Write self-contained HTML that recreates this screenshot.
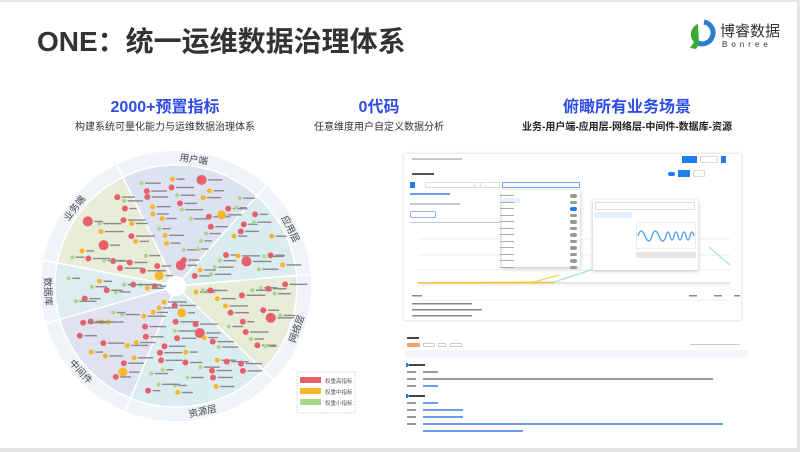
<!DOCTYPE html>
<html><head><meta charset="utf-8">
<style>
*{margin:0;padding:0;box-sizing:border-box}
body{width:800px;height:452px;background:#fff;position:relative;overflow:hidden;font-family:"Liberation Sans","Noto Sans CJK SC",sans-serif}
.frame{position:absolute;left:0;top:0;width:800px;height:452px;border-top:2px solid #e4e4e4;border-right:3px solid #e4e4e4;border-bottom:4px solid #e4e4e4}
.a{position:absolute}
.h{color:#2e4de6;font-weight:bold;font-size:16px;text-align:center;width:260px}
.s{color:#333;font-size:10px;text-align:center;width:260px}
.bar{position:absolute;height:2px;background:#c8c8c8}
.bl{position:absolute;height:2px;background:#6f9cf0}
</style></head><body>
<div class="frame"></div>
<div class="a" style="left:37px;top:20px;font-size:28px;font-weight:bold;color:#333">ONE：统一运维数据治理体系</div>
<svg class="a" style="left:684px;top:18px" width="34" height="34" viewBox="0 0 34 34">
<path d="M20 4 A11 11 0 1 1 12 24" fill="none" stroke="#2a7fd0" stroke-width="5"/>
<path d="M14 6 A11 11 0 0 0 10 24 L6 30 L12 31 L15 26" fill="#3aa73a"/>
</svg>
<div class="a" style="left:720px;top:20px;font-size:15px;color:#333">博睿数据</div>
<div class="a" style="left:722px;top:40px;font-size:8px;color:#333;letter-spacing:4px">Bonree</div>

<div class="a h" style="left:35px;top:93px">2000+预置指标</div>
<div class="a s" style="left:35px;top:118px">构建系统可量化能力与运维数据治理体系</div>
<div class="a h" style="left:249px;top:93px">0代码</div>
<div class="a s" style="left:249px;top:118px">任意维度用户自定义数据分析</div>
<div class="a h" style="left:497px;top:93px">俯瞰所有业务场景</div>
<div class="a s" style="left:497px;top:118px;font-weight:bold;color:#222">业务-用户端-应用层-网络层-中间件-数据库-资源</div>

<svg class="a" style="left:0;top:0" width="800" height="452" id="wheel">
<circle cx="176" cy="286" r="135" fill="#eef4f7"/>
<g id="sec"></g>
<g id="dots"></g>
<circle cx="176" cy="286" r="10" fill="#fff"/>
<g font-size="9.5" fill="#444" text-anchor="middle" id="lbl"></g>
<rect x="297" y="372" width="58" height="41" fill="#fff" stroke="#ddd" stroke-dasharray="2,1"/>
<rect x="300" y="377" width="21" height="6" fill="#e8606a"/>
<rect x="300" y="388" width="21" height="6" fill="#f8b62d"/>
<rect x="300" y="399" width="21" height="6" fill="#a8d88a"/>
<g font-size="5.5" fill="#555"><text x="325" y="383">权重高指标</text><text x="325" y="394">权重中指标</text><text x="325" y="405">权重小指标</text></g>
</svg>

<div class="a" style="left:404px;top:154px;width:337px;height:166px;background:#fff;box-shadow:0 0 3px #ccc"></div>
<div class="bar" style="left:412px;top:158px;width:50px"></div>
<div class="a" style="left:682px;top:156px;width:15px;height:7px;background:#1e7ef0"></div>
<div class="a" style="left:700px;top:156px;width:18px;height:7px;border:1px solid #ddd"></div>
<div class="a" style="left:721px;top:156px;width:5px;height:7px;background:#1e7ef0"></div>
<div class="bar" style="left:412px;top:173px;width:22px;background:#555"></div>
<div class="a" style="left:668px;top:172px;width:7px;height:4px;border-radius:2px;background:#1e7ef0"></div>
<div class="a" style="left:678px;top:170px;width:12px;height:7px;background:#1e7ef0"></div>
<div class="a" style="left:693px;top:170px;width:12px;height:7px;border:1px solid #ddd"></div>
<div class="a" style="left:410px;top:182px;width:5px;height:6px;background:#1e7ef0"></div>
<div class="a" style="left:425px;top:182px;width:56px;height:6px;border:1px solid #ddd"></div>
<div class="a" style="left:474px;top:182px;width:26px;height:6px;border:1px solid #ddd"></div>
<div class="a" style="left:502px;top:182px;width:78px;height:6px;border:1px solid #6fa7f0"></div>
<div class="bl" style="left:410px;top:193px;width:40px"></div>
<div class="bar" style="left:410px;top:203px;width:50px"></div>
<div class="a" style="left:410px;top:211px;width:26px;height:7px;border:1px solid #8fb8f5;border-radius:2px"></div>
<div class="bar" style="left:410px;top:222px;width:90px;height:1px"></div>
<svg class="a" style="left:404px;top:225px" width="337" height="95">
<g stroke="#eee" stroke-width="1"><line x1="14" y1="14" x2="326" y2="14"/><line x1="14" y1="30" x2="326" y2="30"/><line x1="14" y1="45" x2="326" y2="45"/><line x1="14" y1="60" x2="326" y2="60"/><line x1="14" y1="75" x2="326" y2="75"/></g>
<line x1="14" y1="58" x2="326" y2="58" stroke="#ccc"/>
<polyline points="14,58 150,57 190,44 196,22" fill="none" stroke="#a8e6c8" stroke-width="1.2"/>
<polyline points="305,22 326,40" fill="none" stroke="#a8e6c8" stroke-width="1.2"/>
<polyline points="14,58 130,57 155,50" fill="none" stroke="#f8d24a" stroke-width="1.2"/>
<line x1="14" y1="58" x2="150" y2="58" stroke="#f8b62d" stroke-width="1.2"/>
<g fill="#888"><rect x="8" y="70" width="10" height="1.5"/><rect x="8" y="78" width="60" height="1.5"/><rect x="8" y="84" width="70" height="1.5"/><rect x="8" y="90" width="60" height="1.5"/>
<rect x="285" y="70" width="8" height="1.5"/><rect x="310" y="70" width="8" height="1.5"/><rect x="330" y="70" width="6" height="1.5"/></g>
</svg>
<div class="a" style="left:502px;top:190px;width:78px;height:77px;background:#fff;box-shadow:0 1px 4px #bbb"></div>
<div class="a" style="left:503px;top:198px;width:17px;height:5px;background:#e6efff"></div>
<div class="a" style="left:593px;top:200px;width:105px;height:70px;background:#fff;box-shadow:0 1px 4px #bbb"></div>
<div class="a" style="left:595px;top:202px;width:100px;height:8px;border:1px solid #ddd"></div>
<div class="a" style="left:594px;top:212px;width:38px;height:6px;background:#e6efff"></div>
<div class="a" style="left:636px;top:222px;width:60px;height:27px;border:1px solid #eee"></div>
<svg class="a" style="left:637px;top:224px" width="60" height="24"><path d="M1 12 Q4 2 8 12 T15 12 T22 12 T29 12 Q31 4 33 12 T37 12 T41 12 T45 12 T49 12 T53 12 T57 12" fill="none" stroke="#5aa7f0" stroke-width="1.5"/></svg>
<div class="a" style="left:636px;top:252px;width:60px;height:6px;background:#e6e6e6"></div>
<div class="a" id="tog" style="left:570px;top:194px"></div>

<div class="bar" style="left:407px;top:337px;width:12px;background:#444"></div>
<div class="a" style="left:407px;top:343px;width:13px;height:4px;background:#f7a36b"></div>
<div class="a" style="left:423px;top:343px;width:12px;height:4px;border:1px solid #ccc"></div>
<div class="a" style="left:438px;top:343px;width:8px;height:4px;border:1px solid #ccc"></div>
<div class="a" style="left:450px;top:343px;width:12px;height:4px;border:1px solid #ccc"></div>
<div class="a" style="left:405px;top:350px;width:343px;height:7px;background:#f2f5f9"></div>
<div class="bar" style="left:690px;top:344px;width:50px;height:1px"></div>
<div id="rows"></div>
<script>
(function(){
var sv=document.getElementById('wheel'),NS='http://www.w3.org/2000/svg',cx=176,cy=286;
function el(t,a,p){var e=document.createElementNS(NS,t);for(var k in a)e.setAttribute(k,a[k]);(p||sv).appendChild(e);return e;}
var secs=[[-116,-48,'#dde2f0','用户端'],[-48,-5,'#dbecf0','应用层'],[-5,44,'#e6ecd8','网络层'],[44,112,'#dbecf0','资源层'],[112,164,'#dfe3f1','中间件'],[164,191,'#dcecf1','数据库'],[191,244,'#e8edd9','业务端']];
var g=document.getElementById('sec'),lg=document.getElementById('lbl'),dg=document.getElementById('dots');
function P(r,a){a=a*Math.PI/180;return [cx+r*Math.cos(a),cy+r*Math.sin(a)];}
var seed=11;function rnd(){seed=(seed*9301+49297)%233280;return seed/233280;}
var cols=['#e8606a','#f8b62d','#a8d88a'];
secs.forEach(function(s){
 var p0=P(121,s[0]),p1=P(121,s[1]);
 el('path',{d:'M'+cx+' '+cy+' L'+p0[0]+' '+p0[1]+' A121 121 0 0 1 '+p1[0]+' '+p1[1]+' Z',fill:s[2],stroke:'#fff','stroke-width':1.5},g);
 var q0=P(135,s[0]),q1=P(121,s[0]);
 el('line',{x1:q0[0],y1:q0[1],x2:q1[0],y2:q1[1],stroke:'#fff','stroke-width':2},g);
 var m=(s[0]+s[1])/2,lp=P(128,m),mm=((m%360)+360)%360,rot=(mm>0&&mm<180)?m-90:m+90;
 var t=el('text',{x:lp[0],y:lp[1]+3.3,transform:'rotate('+rot+' '+lp[0]+' '+lp[1]+')'},lg);t.textContent=s[3];
 for(var r=20;r<=114;r+=8){
  var arc=(s[1]-s[0])*Math.PI/180*r,n=Math.max(1,Math.floor(arc/26));
  for(var i=0;i<n;i++){
   var a=s[0]+(s[1]-s[0])*(i+0.25+rnd()*0.5)/n,pp=P(r+(rnd()-0.5)*3,a);
   var k=rnd(),c=k<0.4?0:(k<0.65?1:2),rad=c==0?(rnd()<0.2?5:3):(c==1?(rnd()<0.15?4.5:2.5):2);
   el('circle',{cx:pp[0],cy:pp[1],r:rad,fill:cols[c]},dg);
   el('rect',{x:pp[0]+rad+1.5,y:pp[1]-0.7,width:7+rnd()*12,height:1.4,fill:'#8a8a8a'},dg);
  }
 }
});
var rows=document.getElementById('rows'),h='';
var ys=[364,371,378,385,395,402,409,416,423];
ys.forEach(function(y,i){h+='<div class="bar" style="left:407px;top:'+y+'px;width:9px;height:1.5px;background:#999"></div>';
 var w=i==2?290:(i>=6?40:15),c=(i==3||i>=5)?'#6f9cf0':'#999';
 if(i==0||i==4){h+='<div class="a" style="left:406px;top:'+(y-1)+'px;width:1.5px;height:4px;background:#1e7ef0"></div><div class="bar" style="left:409px;top:'+y+'px;width:16px;background:#444;height:1.5px"></div>';}
 else h+='<div class="bar" style="left:423px;top:'+y+'px;width:'+w+'px;height:1.5px;background:'+c+'"></div>';});
h+='<div class="bl" style="left:423px;top:423px;width:300px;height:1.5px"></div><div class="bl" style="left:423px;top:430px;width:100px;height:1.5px"></div>';
rows.innerHTML=h;
var tg='';for(var i=0;i<12;i++)tg+='<div class="a" style="left:0;top:'+(i*6.5)+'px;width:7px;height:3.5px;border-radius:2px;background:'+(i==2?'#1e7ef0':'#999')+'"></div><div class="bar" style="left:-70px;top:'+(i*6.5+1)+'px;width:14px;height:1px;background:#aaa"></div>';
document.getElementById('tog').innerHTML=tg;
})();
</script>
</body></html>
